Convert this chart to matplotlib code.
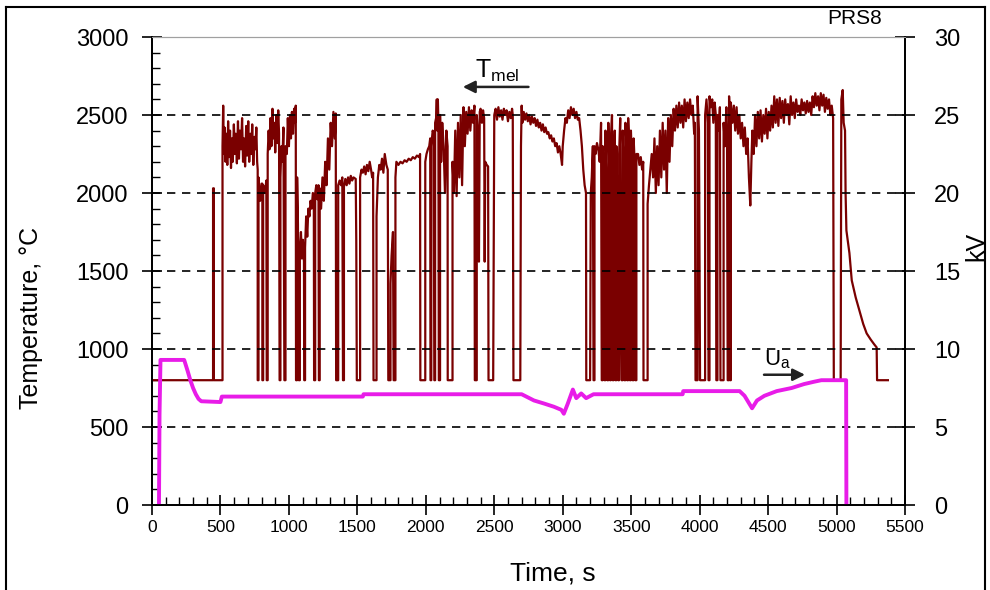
import matplotlib
matplotlib.use('Agg')
import matplotlib.pyplot as plt
from matplotlib.ticker import MultipleLocator
from matplotlib.lines import Line2D

plt.rcParams['font.family'] = ['Liberation Sans', 'DejaVu Sans']
plt.rcParams['mathtext.fontset'] = 'custom'
plt.rcParams['mathtext.rm'] = 'Liberation Sans'

# melt temperature (s, degC); 800 is the pyrometer floor
tmel_time = [
  0, 446, 446, 452, 452, 515,
  515, 520, 525, 530, 537, 543, 550, 556, 562, 570,
  577, 584, 590, 598, 605, 612, 620, 628, 635, 642,
  650, 658, 665, 672, 680, 688, 695, 703, 710, 718,
  725, 732, 740, 748, 755, 762, 768, 772, 772, 778,
  778, 790, 800, 806, 806, 812, 812, 825, 835, 838,
  845, 845, 852, 858, 865, 872, 880, 887, 894, 900,
  908, 915, 922, 928, 932, 938, 938, 945, 952, 960,
  967, 975, 975, 985, 992, 1000, 1008, 1015, 1022, 1030,
  1038, 1045, 1050, 1052, 1060, 1060, 1066, 1072, 1080, 1080,
  1088, 1095, 1102, 1110, 1112, 1118, 1118, 1126, 1134, 1142,
  1150, 1158, 1166, 1175, 1182, 1184, 1192, 1192, 1200, 1208,
  1216, 1219, 1225, 1225, 1235, 1245, 1255, 1265, 1275, 1285,
  1295, 1305, 1315, 1325, 1335, 1342, 1345, 1360, 1360, 1370,
  1380, 1390, 1395, 1402, 1402, 1412, 1422, 1432, 1442, 1452,
  1462, 1472, 1488, 1492, 1496, 1520, 1520, 1530, 1540, 1550,
  1560, 1570, 1580, 1590, 1600, 1608, 1615, 1618, 1640, 1640,
  1650, 1660, 1670, 1680, 1690, 1700, 1712, 1722, 1726, 1742,
  1742, 1750, 1760, 1765, 1778, 1778, 1785, 1800, 1815, 1830,
  1845, 1860, 1875, 1890, 1905, 1920, 1935, 1950, 1958, 1960,
  1996, 1996, 2005, 2015, 2025, 2032, 2034, 2040, 2040, 2050,
  2058, 2062, 2068, 2068, 2075, 2080, 2084, 2088, 2092, 2095,
  2104, 2104, 2112, 2120, 2130, 2140, 2150, 2159, 2160, 2195,
  2195, 2205, 2215, 2225, 2235, 2245, 2255, 2265, 2275, 2285,
  2295, 2305, 2315, 2325, 2335, 2345, 2355, 2358, 2372, 2372,
  2380, 2388, 2394, 2400, 2410, 2418, 2426, 2430, 2434, 2445,
  2455, 2458, 2492, 2500, 2510, 2520, 2530, 2540, 2550, 2560,
  2570, 2580, 2590, 2600, 2610, 2620, 2630, 2635, 2640, 2690,
  2695, 2700, 2705, 2715, 2725, 2735, 2745, 2755, 2765, 2775,
  2785, 2795, 2805, 2815, 2825, 2835, 2845, 2855, 2865, 2875,
  2885, 2895, 2905, 2915, 2925, 2935, 2945, 2955, 2965, 2975,
  2985, 2995, 3000, 3010, 3020, 3030, 3040, 3050, 3060, 3070,
  3080, 3090, 3100, 3110, 3120, 3130, 3140, 3150, 3160, 3170,
  3172, 3200, 3205, 3212, 3220, 3225, 3232, 3232, 3240, 3250,
  3260, 3270, 3280, 3285, 3292, 3292, 3300, 3305, 3312, 3312,
  3320, 3325, 3333, 3333, 3340, 3345, 3352, 3352, 3360, 3365,
  3372, 3372, 3380, 3385, 3392, 3392, 3400, 3405, 3412, 3412,
  3420, 3425, 3430, 3438, 3438, 3445, 3450, 3458, 3458, 3465,
  3470, 3478, 3478, 3485, 3490, 3498, 3498, 3505, 3510, 3518,
  3518, 3525, 3530, 3538, 3538, 3550, 3560, 3570, 3580, 3588,
  3590, 3620, 3620, 3630, 3640, 3650, 3660, 3670, 3680, 3690,
  3700, 3710, 3720, 3730, 3740, 3750, 3760, 3770, 3780, 3790,
  3800, 3810, 3820, 3830, 3840, 3850, 3860, 3870, 3880, 3890,
  3900, 3910, 3920, 3930, 3940, 3950, 3960, 3965, 3970, 3985,
  3985, 3995, 4003, 4040, 4040, 4050, 4060, 4065, 4072, 4072,
  4082, 4092, 4100, 4110, 4118, 4122, 4130, 4130, 4140, 4148,
  4152, 4175, 4175, 4185, 4195, 4200, 4205, 4215, 4215, 4220,
  4224, 4228, 4228, 4240, 4250, 4260, 4270, 4280, 4290, 4300,
  4310, 4320, 4330, 4340, 4350, 4360, 4370, 4378, 4385, 4395,
  4405, 4415, 4425, 4435, 4445, 4455, 4465, 4475, 4485, 4495,
  4505, 4515, 4525, 4535, 4545, 4555, 4565, 4575, 4585, 4595,
  4605, 4615, 4625, 4635, 4645, 4655, 4665, 4675, 4685, 4695,
  4705, 4715, 4725, 4735, 4745, 4755, 4765, 4775, 4785, 4795,
  4805, 4815, 4825, 4835, 4845, 4855, 4865, 4875, 4885, 4895,
  4905, 4915, 4925, 4935, 4945, 4955, 4965, 4975, 4980, 5030,
  5035, 5045, 5052, 5062, 5066, 5072, 5094, 5111, 5140, 5172,
  5195, 5220, 5250, 5275, 5293, 5296, 5375,
]
tmel_temp = [
  800, 800, 2030, 2030, 800, 800,
  2300, 2560, 2250, 2420, 2200, 2380, 2180, 2460, 2230, 2400,
  2160, 2350, 2200, 2440, 2250, 2380, 2190, 2460, 2220, 2400,
  2280, 2480, 2200, 2350, 2170, 2430, 2240, 2460, 2200, 2380,
  2250, 2440, 2180, 2360, 2280, 2420, 2200, 2150, 800, 800,
  2100, 1950, 2060, 2060, 800, 800, 2050, 2000, 2080, 800,
  800, 2250, 2400, 2280, 2480, 2300, 2540, 2350, 2450, 2260,
  2500, 2320, 2530, 2380, 800, 800, 2100, 2300, 2200, 2420,
  800, 800, 2300, 2250, 2480, 2300, 2500, 2350, 2520, 2380,
  2540, 2450, 2560, 800, 800, 2100, 1800, 800, 800, 1650,
  1750, 1580, 1700, 1560, 800, 800, 1650, 1850, 1720, 1900,
  1850, 1950, 1900, 2000, 1980, 800, 800, 2000, 2050, 1960,
  2050, 800, 800, 2030, 1900, 2100, 1950, 2200, 2050, 2350,
  2150, 2450, 2300, 2520, 2350, 2510, 800, 800, 2050, 2080,
  2050, 2100, 800, 800, 2040, 2090, 2050, 2100, 2060, 2110,
  2080, 2100, 2090, 1700, 800, 800, 2100, 2150, 2130, 2170,
  2120, 2180, 2140, 2200, 2150, 2100, 2130, 800, 800, 1850,
  2100, 2180, 2150, 2220, 2130, 2250, 2180, 2150, 800, 800,
  1420, 1600, 1750, 800, 800, 2100, 2200, 2180, 2200, 2190,
  2210, 2200, 2220, 2210, 2230, 2220, 2240, 2230, 2250, 800,
  800, 2200, 2250, 2280, 2300, 2350, 800, 800, 2300, 2400,
  2380, 800, 800, 2450, 2480, 2600, 2400, 2600, 2450, 800,
  800, 2500, 2200, 2450, 2300, 2000, 2400, 2300, 800, 800,
  2200, 2000, 2400, 1980, 2450, 2100, 2500, 2050, 2550, 2300,
  2520, 2380, 2550, 2400, 2530, 2450, 2560, 800, 800, 2500,
  2400, 1560, 2520, 2540, 2450, 2530, 2480, 1560, 2200, 2180,
  2170, 800, 800, 2500, 2540, 2470, 2550, 2490, 2530, 2470,
  2540, 2500, 2530, 2460, 2520, 2480, 2540, 2500, 800, 800,
  2300, 2560, 2450, 2520, 2470, 2510, 2460, 2500, 2440, 2490,
  2450, 2480, 2430, 2470, 2420, 2450, 2400, 2440, 2390, 2420,
  2380, 2390, 2350, 2370, 2330, 2350, 2300, 2320, 2260, 2300,
  2250, 2180, 2300, 2400, 2480, 2450, 2530, 2480, 2550, 2500,
  2540, 2480, 2520, 2470, 2480, 2400, 2300, 2150, 2050, 2000,
  800, 800, 2000, 2100, 2300, 800, 800, 2300, 2250, 2320,
  2280, 2200, 2450, 800, 800, 2300, 2100, 800, 800, 2400,
  2000, 800, 800, 2450, 2150, 800, 800, 2350, 2500, 800,
  800, 2100, 2400, 800, 800, 2300, 1900, 800, 800, 2250,
  2480, 1300, 800, 800, 2400, 2200, 800, 800, 2450, 2250,
  800, 800, 2480, 2300, 800, 800, 2400, 2200, 800, 800,
  2350, 2200, 800, 800, 2250, 2250, 2180, 2230, 2150, 2200,
  800, 800, 1930, 2050, 2150, 2250, 2100, 2350, 2000, 2300,
  2050, 2400, 2100, 2450, 2150, 2400, 2000, 2480, 2200, 2500,
  2300, 2540, 2400, 2560, 2420, 2580, 2450, 2560, 2420, 2600,
  2460, 2580, 2480, 2600, 2500, 2560, 2380, 2450, 800, 800,
  2620, 2400, 800, 800, 2500, 2600, 2450, 800, 800, 2620,
  2550, 2600, 2450, 2580, 2500, 800, 800, 2500, 2400, 2550,
  800, 800, 2450, 2300, 2550, 2400, 800, 800, 2620, 2500,
  800, 800, 2580, 2450, 2560, 2400, 2550, 2380, 2500, 2350,
  2450, 2300, 2420, 2250, 2350, 2100, 1920, 2200, 2400, 2250,
  2500, 2300, 2520, 2350, 2530, 2330, 2500, 2380, 2540, 2350,
  2520, 2400, 2560, 2420, 2620, 2450, 2600, 2430, 2610, 2480,
  2590, 2450, 2600, 2500, 2570, 2440, 2620, 2500, 2580, 2480,
  2600, 2520, 2560, 2500, 2600, 2530, 2580, 2510, 2590, 2520,
  2580, 2500, 2620, 2550, 2640, 2560, 2620, 2530, 2640, 2560,
  2630, 2520, 2610, 2540, 2600, 2500, 2560, 2480, 800, 800,
  2600, 2660, 2450, 2400, 2000, 1760, 1615, 1440, 1330, 1230,
  1160, 1100, 1060, 1030, 1010, 800, 800,
]

# anode voltage (s, kV)
ua_time = [51, 55, 62, 235, 260, 280, 300, 320, 340, 360, 500, 510, 1540, 1545,
           2700, 2790, 2865, 2935, 2990, 3008, 3037, 3074, 3099, 3135, 3171, 3225,
           3876, 3880, 4292, 4328, 4383, 4419, 4473, 4563, 4672, 4762, 4835, 4889,
           5070, 5072]
ua_kv = [0, 5.8, 9.3, 9.3, 8.6, 8.0, 7.5, 7.1, 6.8, 6.65, 6.6, 6.95, 6.95, 7.1,
         7.1, 6.7, 6.5, 6.3, 6.1, 5.85, 6.5, 7.4, 6.85, 7.15, 6.85, 7.1,
         7.1, 7.3, 7.3, 7.0, 6.2, 6.7, 7.0, 7.3, 7.5, 7.75, 7.9, 8.0,
         8.0, 0]

grid_levels = [500, 1000, 1500, 2000, 2500]

fig = plt.figure(figsize=(9.9, 5.9), dpi=100)
ax = fig.add_axes([152 / 990, 85 / 590, 753 / 990, 468 / 590])
ax2 = ax.twinx()

ax.plot(tmel_time, tmel_temp, color='#7a0000', lw=1.6, zorder=2)
for g in grid_levels:
  ax.axhline(g, color='black', lw=1.2, ls=(0, (5, 4)), zorder=3)
ax2.plot(ua_time, ua_kv, color='#e81ce8', lw=2.8)

ax.set_xlim(0, 5500)
ax.set_ylim(0, 3000)
ax2.set_ylim(0, 30)

ax.xaxis.set_major_locator(MultipleLocator(500))
ax.xaxis.set_minor_locator(MultipleLocator(100))
ax.yaxis.set_major_locator(MultipleLocator(500))
ax.yaxis.set_minor_locator(MultipleLocator(100))
ax2.yaxis.set_major_locator(MultipleLocator(5))

ax.tick_params(which='major', direction='inout', length=14, width=1.2)
ax.tick_params(which='minor', direction='in', length=6, width=1)
ax.tick_params(axis='y', labelsize=17, pad=10)
ax.tick_params(axis='x', labelsize=12.5, pad=4)
ax2.tick_params(axis='y', which='major', direction='inout', length=14, width=1.2,
                labelsize=17, pad=14)

for a in (ax, ax2):
  a.spines['top'].set_color('#a0a0a0')
  for s in ('left', 'right', 'bottom'):
    a.spines[s].set_linewidth(1.3)

fig.text(31 / 990, 1 - 318 / 590, 'Temperature, °C', rotation=90, fontsize=18,
         ha='center', va='center')
fig.text(976 / 990, 1 - 246 / 590, 'kV', rotation=90, fontsize=18,
         ha='center', va='center')
fig.text(553 / 990, 1 - 573 / 590, 'Time, s', fontsize=19, ha='center', va='center')
fig.text(855 / 990, 1 - 18 / 590, 'PRS8', fontsize=15, ha='center', va='center')

# series labels with arrows
ax.annotate('', xy=(2250, 2680), xytext=(2770, 2680),
            arrowprops=dict(arrowstyle='-|>', color='#222222', lw=1.8, mutation_scale=18))
ax.text(2360, 2700, r'T$_{\rm mel}$', fontsize=18, ha='left', va='bottom')
ax.annotate('', xy=(4790, 835), xytext=(4450, 835),
            arrowprops=dict(arrowstyle='-|>', color='#222222', lw=1.8, mutation_scale=18))
ax.text(4470, 860, r'U$_{\rm a}$', fontsize=16, ha='left', va='bottom')

# frame round the picture
fig.add_artist(Line2D([6 / 990, 6 / 990], [0, 1 - 7 / 590], color='black', lw=1.5))
fig.add_artist(Line2D([6 / 990, 985 / 990], [1 - 7 / 590, 1 - 7 / 590], color='black', lw=1.5))
fig.add_artist(Line2D([985 / 990, 985 / 990], [0, 1 - 7 / 590], color='black', lw=1.5))

fig.savefig('out.png', dpi=100)
